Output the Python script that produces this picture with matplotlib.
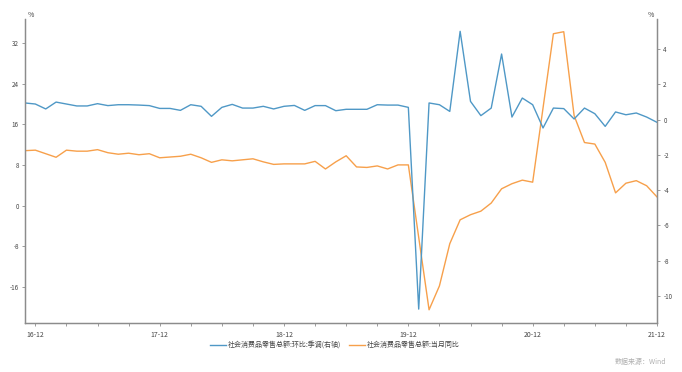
import matplotlib
matplotlib.use("Agg")
import matplotlib.pyplot as plt
import numpy as np
import pandas as pd

plt.rcParams['font.family'] = ['Noto Sans CJK SC', 'DejaVu Sans']

# 月份: 2016-11 ~ 2021-12
months = pd.period_range("2016-11", "2021-12", freq="M")

# 社会消费品零售总额:环比:季调 (右轴)
mom_sa = [
    0.95, 0.89,
    0.61, 1.00, 0.89, 0.78, 0.78, 0.91, 0.80, 0.85, 0.85, 0.83, 0.80, 0.64,
    0.64, 0.53, 0.85, 0.76, 0.19, 0.70, 0.87, 0.66, 0.66, 0.76, 0.61, 0.76,
    0.81, 0.53, 0.80, 0.80, 0.51, 0.59, 0.59, 0.59, 0.85, 0.83, 0.83, 0.70,
    -10.76, 0.95, 0.85, 0.47, 5.02, 1.04, 0.23, 0.66, 3.73, 0.15, 1.23, 0.85,
    -0.47, 0.66, 0.63, 0.04, 0.66, 0.34, -0.38, 0.44, 0.28, 0.38, 0.15, -0.15,
]

# 社会消费品零售总额:当月同比 (1月无数据)
yoy = [
    10.8, 10.9,
    None, 9.5, 10.9, 10.7, 10.7, 11.0, 10.4, 10.1, 10.3, 10.0, 10.2, 9.4,
    None, 9.7, 10.1, 9.4, 8.5, 9.0, 8.8, 9.0, 9.2, 8.6, 8.1, 8.2,
    None, 8.2, 8.7, 7.2, 8.6, 9.8, 7.6, 7.5, 7.8, 7.2, 8.0, 8.0,
    None, -20.5, -15.8, -7.5, -2.8, -1.8, -1.1, 0.5, 3.3, 4.3, 5.0, 4.6,
    None, 33.8, 34.2, 17.7, 12.4, 12.1, 8.5, 2.5, 4.4, 4.9, 3.9, 1.7,
]

label_mom = "社会消费品零售总额:环比:季调(右轴)"
label_yoy = "社会消费品零售总额:当月同比"
left_ticks = [-16, -8, 0, 8, 16, 24, 32]
right_ticks = [-10, -8, -6, -4, -2, 0, 2, 4]

blue = "#4f98c6"
orange = "#f7a04b"
spine_c = "#8c8c8c"
txt_c = "#444444"

x = np.arange(len(months)) - 1
yoy_s = pd.Series(yoy, index=x, dtype=float).dropna()

fig = plt.figure(figsize=(6.82, 3.72), dpi=100)
ax = fig.add_axes([25 / 682, 49 / 372, 632 / 682, 304 / 372])
ax2 = ax.twinx()

l2, = ax.plot(yoy_s.index, yoy_s.values, color=orange, lw=1.0, label=label_yoy)
l1, = ax2.plot(x, mom_sa, color=blue, lw=1.0, label=label_mom)

ax.set_xlim(-1, 60)
ax.set_ylim(-23.1, 36.7)
ax2.set_ylim(-11.55, 5.72)

ax.set_yticks(left_ticks)
ax.set_yticklabels([str(t) for t in left_ticks])
ax2.set_yticks(right_ticks)
ax2.set_yticklabels([str(t) for t in right_ticks])

xt = np.arange(0, 61, 3)
ax.set_xticks(xt)
ax.set_xticklabels([months[i + 1].strftime("%y-%m") if i % 12 == 0 else "" for i in xt])

for a in (ax, ax2):
    a.spines['top'].set_visible(False)
    for s in ('left', 'right', 'bottom'):
        a.spines[s].set_color(spine_c)
        a.spines[s].set_linewidth(0.9)
    a.tick_params(length=2.5, width=0.6, color=spine_c, labelsize=4.5,
                  labelcolor=txt_c, pad=2)
ax.tick_params(axis='x', labelsize=5, pad=3)

ax.text(0.005, 1.0, "%", transform=ax.transAxes, fontsize=5, color=txt_c,
        ha='left', va='bottom')
ax2.text(0.995, 1.0, "%", transform=ax2.transAxes, fontsize=5, color=txt_c,
         ha='right', va='bottom')

fig.legend([l1, l2], [label_mom, label_yoy], loc='center', ncol=2,
           bbox_to_anchor=(335 / 682, 1 - 345 / 372), frameon=False,
           fontsize=5, handlelength=2.2, handletextpad=0.3, columnspacing=1.2,
           labelcolor=txt_c)

fig.text(640 / 682, 1 - 362 / 372, "数据来源：Wind", fontsize=5, color="#b0b0b0",
         ha='center', va='center')

fig.savefig("out.png", dpi=100)
